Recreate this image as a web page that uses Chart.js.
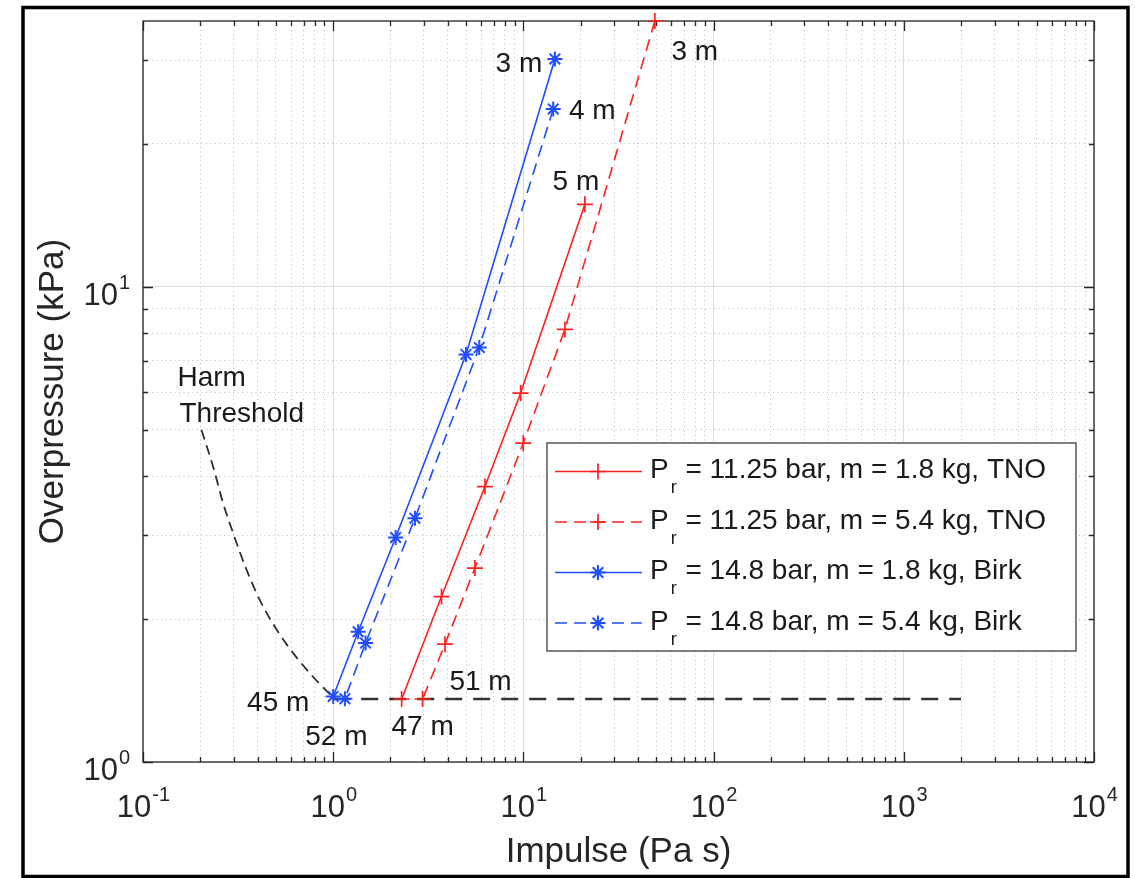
<!DOCTYPE html>
<html>
<head>
<meta charset="utf-8">
<script src="https://cdn.jsdelivr.net/npm/chart.js@4.4.1/dist/chart.umd.min.js"></script>
<style>
  html, body { margin: 0; padding: 0; background: #fff; }
  canvas { display: block; }
</style>
</head>
<body>
<canvas id="piChart" width="1135" height="878"></canvas>
<script>
// data (impulse in Pa s, overpressure in kPa)
const redSolidX = [21.05, 9.67, 6.28, 3.71, 2.29];
const redSolidY = [14.93, 5.98, 3.80, 2.23, 1.357];
const redDashX = [49.1, 16.53, 9.98, 5.56, 3.87, 2.95];
const redDashY = [36.3, 8.14, 4.69, 2.56, 1.77, 1.357];
const blueSolidX = [14.64, 4.99, 2.13, 1.353, 1.0];
const blueSolidY = [30.2, 7.21, 2.97, 1.88, 1.374];
const blueDashX = [14.35, 5.86, 2.69, 1.48, 1.152];
const blueDashY = [23.7, 7.46, 3.26, 1.78, 1.359];
// harm threshold curve + flat part
const harmX = [0.203, 0.234, 0.264, 0.298, 0.350, 0.412, 0.504, 0.616, 0.785, 1.0];
const harmY = [5.00, 4.18, 3.50, 3.03, 2.54, 2.19, 1.90, 1.695, 1.51, 1.365];
const flatX = [1.0, 2000];
const flatY = [1.357, 1.357];

const seriesRest = [
    ' = 11.25 bar, m = 1.8 kg, TNO',
    ' = 11.25 bar, m = 5.4 kg, TNO',
    ' = 14.8 bar, m = 1.8 kg, Birk',
    ' = 14.8 bar, m = 5.4 kg, Birk'
];
const xTickExps = [-1, 0, 1, 2, 3, 4];
const yTickExps = [0, 1];

const RED = '#ff1f1f';
const BLUE = '#1f4dff';
const AXIS = '#262626';
const FONT = '"Liberation Sans", Arial, sans-serif';

function pts(xs, ys) {
    return xs.map((x, i) => ({ x: x, y: ys[i] }));
}

function isMajor(v) {
    const l = Math.log10(v);
    return Math.abs(l - Math.round(l)) < 1e-6;
}

function logTicks(min, max) {
    const out = [];
    for (let e = Math.floor(Math.log10(min)); e <= Math.ceil(Math.log10(max)); e++) {
        for (let m = 1; m <= 9; m++) {
            const v = m * Math.pow(10, e);
            if (v >= min * 0.999 && v <= max * 1.001) out.push({ value: v });
        }
    }
    return out;
}

// text labels next to points: dataset index, point index, offset
const notes = [
    { text: '3 m', ds: 2, i: 0, dx: -36, dy: 13.5 },
    { text: '4 m', ds: 3, i: 0, dx: 39, dy: 10 },
    { text: '5 m', ds: 0, i: 0, dx: -9, dy: -14 },
    { text: '3 m', ds: 1, i: 0, dx: 40, dy: 38.5 },
    { text: '45 m', ds: 2, i: 4, dx: -55, dy: 15 },
    { text: '52 m', ds: 3, i: 4, dx: -8.5, dy: 46 },
    { text: '47 m', ds: 0, i: 4, dx: 21, dy: 35.7 },
    { text: '51 m', ds: 1, i: 5, dx: 58, dy: -9.3 }
];

function drawMarker(ctx, style, x, y, r) {
    ctx.beginPath();
    ctx.moveTo(x - r, y); ctx.lineTo(x + r, y);
    ctx.moveTo(x, y - r); ctx.lineTo(x, y + r);
    if (style === 'star') {
        const d = r * Math.SQRT1_2;
        ctx.moveTo(x - d, y - d); ctx.lineTo(x + d, y + d);
        ctx.moveTo(x - d, y + d); ctx.lineTo(x + d, y - d);
    }
    ctx.stroke();
}

function drawPow(ctx, exp, x, baseY, align) {
    ctx.font = '31px ' + FONT;
    const wb = ctx.measureText('10').width;
    ctx.font = '20px ' + FONT;
    const sup = String(exp);
    const ws = ctx.measureText(sup).width;
    const x0 = align === 'center' ? x - (wb + ws) / 2 : x - (wb + ws);
    ctx.textAlign = 'left';
    ctx.textBaseline = 'alphabetic';
    ctx.font = '31px ' + FONT;
    ctx.fillText('10', x0, baseY);
    ctx.font = '20px ' + FONT;
    ctx.fillText(sup, x0 + wb + 1, baseY - 16);
}

const decorPlugin = {
    id: 'decor',
    beforeDatasetsDraw(chart) {
        // axes box and inward ticks, under the data like MATLAB markers
        const ctx = chart.ctx;
        const { left, right, top, bottom } = chart.chartArea;
        const xs = chart.scales.x, ys = chart.scales.y;
        ctx.save();
        ctx.strokeStyle = AXIS;
        ctx.lineWidth = 1.3;
        ctx.setLineDash([]);
        ctx.beginPath();
        xs.ticks.forEach(t => {
            const px = Math.round(xs.getPixelForValue(t.value)) + 0.5;
            const len = isMajor(t.value) ? 10 : 5;
            ctx.moveTo(px, bottom); ctx.lineTo(px, bottom - len);
            ctx.moveTo(px, top); ctx.lineTo(px, top + len);
        });
        ys.ticks.forEach(t => {
            const py = Math.round(ys.getPixelForValue(t.value)) + 0.5;
            const len = isMajor(t.value) ? 10 : 5;
            ctx.moveTo(left, py); ctx.lineTo(left + len, py);
            ctx.moveTo(right, py); ctx.lineTo(right - len, py);
        });
        ctx.stroke();
        ctx.strokeRect(left, top, right - left, bottom - top);
        ctx.restore();
    },
    afterDatasetsDraw(chart) {
        const ctx = chart.ctx;
        const { left, right, top, bottom } = chart.chartArea;
        const xs = chart.scales.x, ys = chart.scales.y;
        ctx.save();

        // tick labels
        ctx.fillStyle = AXIS;
        xTickExps.forEach(e => drawPow(ctx, e, xs.getPixelForValue(Math.pow(10, e)), bottom + 55, 'center'));
        yTickExps.forEach(e => drawPow(ctx, e, left - 14, ys.getPixelForValue(Math.pow(10, e)) + 18, 'right'));

        // axis titles
        ctx.font = '35px ' + FONT;
        ctx.textAlign = 'center';
        ctx.textBaseline = 'alphabetic';
        ctx.fillText('Impulse (Pa s)', (left + right) / 2, 862);
        ctx.save();
        ctx.translate(63, (top + bottom) / 2);
        ctx.rotate(-Math.PI / 2);
        ctx.fillText('Overpressure (kPa)', 0, 0);
        ctx.restore();

        // point notes
        ctx.fillStyle = '#1a1a1a';
        ctx.font = '28px ' + FONT;
        notes.forEach(n => {
            const p = chart.getDatasetMeta(n.ds).data[n.i];
            ctx.textAlign = 'center';
            ctx.fillText(n.text, p.x + n.dx, p.y + n.dy);
        });
        const h = chart.getDatasetMeta(4).data[0];
        ctx.textAlign = 'left';
        ctx.fillText('Harm', h.x - 24, h.y - 44);
        ctx.fillText('Threshold', h.x - 22, h.y - 8);

        // legend
        const lx = 547, ly = 443, lw = 529, lh = 208;
        ctx.fillStyle = '#fff';
        ctx.fillRect(lx, ly, lw, lh);
        ctx.strokeStyle = '#4a4a4a';
        ctx.lineWidth = 1.4;
        ctx.strokeRect(lx, ly, lw, lh);
        seriesRest.forEach((rest, k) => {
            const ds = chart.data.datasets[k];
            const base = 478 + k * 50.5;
            const yLine = base - 6.5;
            ctx.strokeStyle = ds.borderColor;
            ctx.lineWidth = ds.borderWidth;
            ctx.setLineDash(ds.borderDash || []);
            ctx.beginPath();
            ctx.moveTo(555, yLine); ctx.lineTo(642, yLine);
            ctx.stroke();
            ctx.setLineDash([]);
            ctx.lineWidth = ds.pointBorderWidth;
            drawMarker(ctx, ds.pointStyle, 598, yLine, ds.pointRadius);
            ctx.fillStyle = '#1a1a1a';
            ctx.textAlign = 'left';
            ctx.font = '28px ' + FONT;
            ctx.fillText('P', 650, base);
            const wp = ctx.measureText('P').width;
            ctx.font = '18px ' + FONT;
            ctx.fillText('r', 650 + wp + 2, base + 15);
            const wr = ctx.measureText('r').width;
            ctx.font = '28px ' + FONT;
            ctx.fillText(rest, 650 + wp + 2 + wr + 1, base);
        });

        // outer frame
        ctx.strokeStyle = '#000';
        ctx.lineWidth = 3.5;
        ctx.strokeRect(23, 7.5, 1105, 869);
        ctx.restore();
    }
};

const logGrid = {
    color: (c) => c.tick && isMajor(c.tick.value) ? '#dcdcdc' : '#bcbcbc',
    lineWidth: 1,
    drawTicks: false
};
const logBorder = {
    display: false,
    dash: (c) => c.tick && isMajor(c.tick.value) ? [] : [1, 3.5]
};

const ctx = document.getElementById('piChart').getContext('2d');
const piChart = new Chart(ctx, {
    type: 'scatter',
    data: {
        datasets: [
            {
                label: 'TNO 1.8',
                data: pts(redSolidX, redSolidY),
                borderColor: RED, borderWidth: 1.6, borderDash: [],
                pointStyle: 'cross', pointRadius: 8, pointBorderWidth: 1.7,
                pointBorderColor: RED, showLine: true, clip: false
            },
            {
                label: 'TNO 5.4',
                data: pts(redDashX, redDashY),
                borderColor: RED, borderWidth: 1.6, borderDash: [12, 7],
                pointStyle: 'cross', pointRadius: 8, pointBorderWidth: 1.7,
                pointBorderColor: RED, showLine: true, clip: false
            },
            {
                label: 'Birk 1.8',
                data: pts(blueSolidX, blueSolidY),
                borderColor: BLUE, borderWidth: 1.6, borderDash: [],
                pointStyle: 'star', pointRadius: 7.5, pointBorderWidth: 2,
                pointBorderColor: BLUE, showLine: true, clip: false
            },
            {
                label: 'Birk 5.4',
                data: pts(blueDashX, blueDashY),
                borderColor: BLUE, borderWidth: 1.6, borderDash: [12, 7],
                pointStyle: 'star', pointRadius: 7.5, pointBorderWidth: 2,
                pointBorderColor: BLUE, showLine: true, clip: false
            },
            {
                label: 'Harm threshold',
                data: pts(harmX, harmY),
                borderColor: '#2e2e2e', borderWidth: 1.8, borderDash: [10, 6],
                pointRadius: 0, showLine: true, cubicInterpolationMode: 'monotone'
            },
            {
                label: 'Threshold',
                data: pts(flatX, flatY),
                borderColor: '#333', borderWidth: 2.4, borderDash: [17, 11],
                pointRadius: 0, showLine: true
            }
        ]
    },
    options: {
        responsive: false,
        animation: false,
        layout: { padding: { left: 143, top: 21, right: 41, bottom: 116 } },
        plugins: {
            legend: { display: false },
            tooltip: { enabled: false }
        },
        scales: {
            x: {
                type: 'logarithmic', min: 0.1, max: 10000,
                afterBuildTicks: (s) => { s.ticks = logTicks(s.min, s.max); },
                ticks: { display: false },
                grid: logGrid, border: logBorder
            },
            y: {
                type: 'logarithmic', min: 1, max: 36.3,
                afterBuildTicks: (s) => { s.ticks = logTicks(s.min, s.max); },
                ticks: { display: false },
                grid: logGrid, border: logBorder
            }
        }
    },
    plugins: [decorPlugin]
});
</script>
</body>
</html>
